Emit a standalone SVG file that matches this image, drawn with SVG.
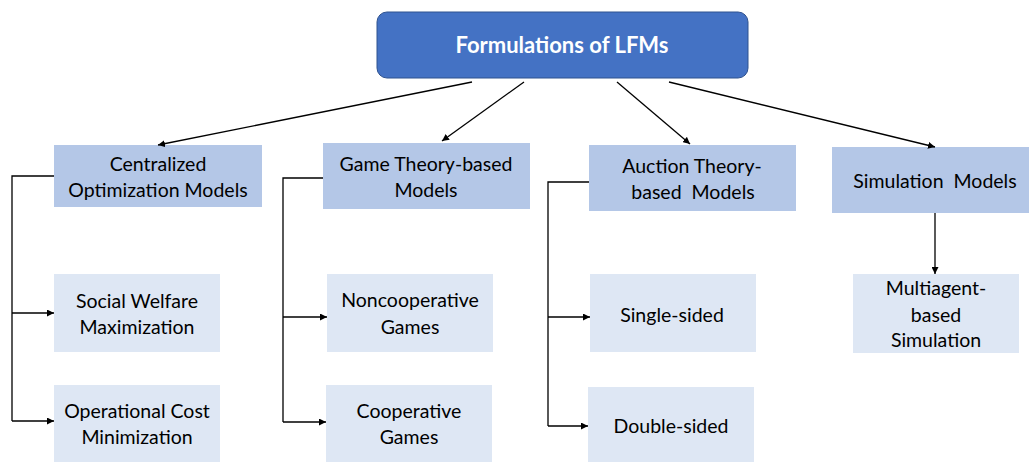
<svg xmlns="http://www.w3.org/2000/svg" width="1029" height="462" viewBox="0 0 1029 462">
<defs>
<marker id="ah" viewBox="0 0 10 10" refX="10" refY="5" markerWidth="7" markerHeight="7" orient="auto-start-reverse" markerUnits="userSpaceOnUse"><path d="M0,0 L10,5 L0,10 z" fill="#000"/></marker>
<style>
text{font-family:Lato,"Liberation Sans",sans-serif;font-size:19.5px;fill:#000;text-anchor:middle}
.l1{fill:#B4C7E7}
.l2{fill:#DEE7F4}
.c{fill:none;stroke:#000;stroke-width:1.3}
.a{marker-end:url(#ah)}
</style>
</defs>
<rect width="1029" height="462" fill="#fff"/>
<g id="root">
<rect x="377" y="12" width="371" height="66" rx="10" fill="#4472C4" stroke="#2F528F" stroke-width="1"/>
<text x="562" y="53" style="font-weight:bold;font-size:22px;fill:#fff">Formulations of LFMs</text>
</g>
<g id="centralized"><rect class="l1" x="54" y="145" width="208" height="62"/><text x="158" y="171">Centralized</text><text x="158" y="197">Optimization Models</text></g>
<g id="game"><rect class="l1" x="323" y="143" width="207" height="66"/><text x="426" y="171">Game Theory-based</text><text x="426" y="197">Models</text></g>
<g id="auction"><rect class="l1" x="589" y="145" width="207" height="66"/><text x="692" y="173">Auction Theory-</text><text x="693" y="199" xml:space="preserve">based  Models</text></g>
<g id="simulation"><rect class="l1" x="832" y="147" width="197" height="66"/><text x="935" y="188" xml:space="preserve">Simulation  Models</text></g>
<g id="social"><rect class="l2" x="54" y="274" width="166" height="78"/><text x="137" y="308">Social Welfare</text><text x="137" y="334">Maximization</text></g>
<g id="opcost"><rect class="l2" x="54" y="385" width="166" height="77"/><text x="137" y="418">Operational Cost</text><text x="137" y="444">Minimization</text></g>
<g id="noncoop"><rect class="l2" x="327" y="274" width="166" height="78"/><text x="410" y="307">Noncooperative</text><text x="410" y="334">Games</text></g>
<g id="coop"><rect class="l2" x="326" y="385" width="166" height="77"/><text x="409" y="418">Cooperative</text><text x="409" y="444">Games</text></g>
<g id="single"><rect class="l2" x="590" y="274" width="166" height="78"/><text x="672" y="322">Single-sided</text></g>
<g id="double"><rect class="l2" x="588" y="387" width="166" height="75"/><text x="671" y="433">Double-sided</text></g>
<g id="multiagent"><rect class="l2" x="853" y="274" width="166" height="79"/><text x="936" y="295">Multiagent-</text><text x="936" y="322">based</text><text x="936" y="347">Simulation</text></g>
<g id="connectors">
<line class="c a" x1="472" y1="82" x2="158" y2="145"/>
<line class="c a" x1="524" y1="82" x2="442" y2="141"/>
<line class="c a" x1="617" y1="82" x2="690" y2="144"/>
<line class="c a" x1="669" y1="82" x2="935" y2="147"/>
<path class="c" d="M54,176 H12 V421"/>
<path class="c a" d="M12,313 H54"/>
<path class="c a" d="M12,421 H54"/>
<path class="c" d="M323,178 H283 V422"/>
<path class="c a" d="M283,317 H327"/>
<path class="c a" d="M283,422 H326"/>
<path class="c" d="M589,182 H548 V426"/>
<path class="c a" d="M548,317 H590"/>
<path class="c a" d="M548,426 H588"/>
<path class="c a" d="M935,213 V274"/>
</g>
</svg>
